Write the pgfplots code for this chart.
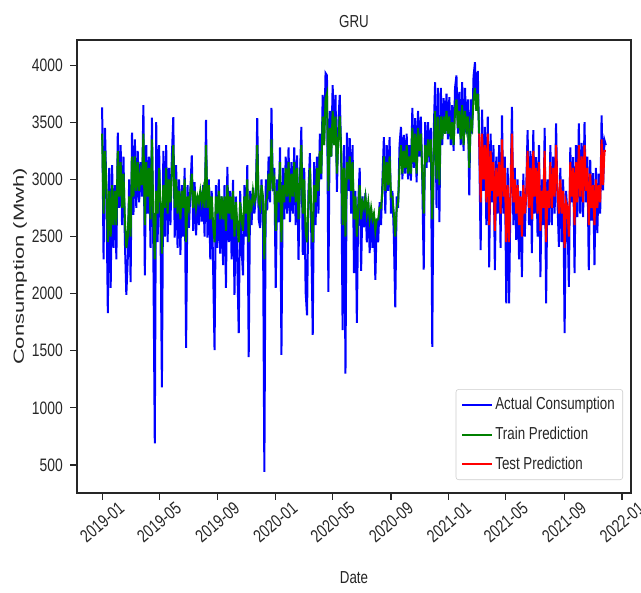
\documentclass[border=0pt]{standalone}
\usepackage{fontspec}
\setmainfont[FakeStretch=0.77]{Liberation Sans}
\newfontfamily\ylfont[FakeStretch=1.5]{Liberation Sans}
\usepackage{pgfplots}
\pgfplotsset{compat=1.18}
\definecolor{txt}{gray}{0.15}
\definecolor{mplblue}{rgb}{0,0,1}
\definecolor{mplgreen}{rgb}{0,0.5,0}
\definecolor{mplred}{rgb}{1,0,0}
\begin{document}
\begin{tikzpicture}
\useasboundingbox (-57.75pt,-74.25pt) rectangle (423pt,369.75pt);
\begin{axis}[at={(0,0)}, anchor=south west, scale only axis,
  width=415.5pt, height=339.75pt,
  xmin=-53, xmax=1115, ymin=255, ymax=4220,
  xtick={0,120,243,365,486,609,731,851,974,1096},
  xticklabels={2019-01,2019-05,2019-09,2020-01,2020-05,2020-09,2021-01,2021-05,2021-09,2022-01},
  ytick={500,1000,1500,2000,2500,3000,3500,4000},
  scaled y ticks=false,
  /pgf/number format/assume math mode=true,
  /pgf/number format/1000 sep={},
  tick align=outside, tick pos=left,
  major tick length=5pt,
  tick style={color=txt, line width=0.8pt},
  axis line style={color=txt, line width=1pt},
  every tick label/.append style={font=\fontsize{13.5}{15}\selectfont, text=txt},
  xticklabel style={yshift=-16.75pt, rotate=40, anchor=center},
  yticklabel style={anchor=east, inner sep=0pt, xshift=-5.5pt},
  title={GRU},
  title style={at={(axis description cs:0.5,1.011)}, anchor=base, inner sep=0pt, font=\fontsize{13}{15}\selectfont, text=txt},
  xlabel={Date},
  xlabel style={at={(axis description cs:0.5,-0.1987)}, anchor=base, inner sep=0pt, font=\fontsize{13}{15}\selectfont, text=txt},
  ylabel={Consumption (Mwh)},
  ylabel style={at={(axis description cs:-0.1029,0.5)}, anchor=center, rotate=0, inner sep=0pt, font=\ylfont\fontsize{11}{13}\selectfont, text=txt},
  legend cell align=left,
  legend style={at={(axis description cs:0.9856,0.0287)}, anchor=south east,
    draw=black!20, rounded corners=2pt, fill=white, fill opacity=0.8, text opacity=1,
    font=\fontsize{13}{15}\selectfont, text=txt, row sep=7.5pt, inner sep=4pt},
  legend image code/.code={\draw[line width=1.5pt] (0pt,0pt) -- (22pt,0pt);},
]
\addplot[mplblue, line width=1.5pt] coordinates {
(0,3630)(3,2300)(6,3450)(9,2900)(12,1830)(15,3100)(18,2050)(21,3125)(24,2400)(27,2950)
(30,2300)(33,3410)(36,2750)(39,3300)(42,2600)(45,3200)(48,2450)(51,1990)(54,2300)(57,3000)
(60,2100)(63,3410)(66,2690)(69,3350)(72,2750)(75,3250)(78,2800)(81,3150)(84,2850)(87,3650)
(90,2160)(93,3300)(96,2700)(99,3200)(102,2400)(105,3540)(108,2340)(111,690)(114,3500)(117,2450)
(120,3300)(123,2600)(126,1180)(129,3250)(132,2500)(135,3300)(138,2450)(141,3100)(144,2600)(147,3200)
(150,3545)(153,2490)(156,3125)(159,2400)(162,3000)(165,2340)(168,2950)(171,2500)(174,3100)(177,1525)
(180,2950)(183,2575)(186,2900)(189,3210)(192,2550)(195,2975)(198,2510)(201,2850)(204,2600)(207,2900)
(210,2630)(213,2950)(216,2500)(219,3520)(222,2490)(225,3000)(228,2300)(231,2900)(234,2225)(237,1505)
(240,2950)(243,2400)(246,3000)(249,2350)(252,2850)(255,2250)(258,2950)(261,2050)(264,3110)(267,2450)
(270,2900)(273,2300)(276,2995)(279,1990)(282,2850)(285,2250)(288,1655)(291,2900)(294,2400)(297,2160)
(300,2950)(303,2500)(306,3125)(309,1445)(312,2900)(315,2600)(318,2925)(321,2700)(324,2850)(327,3535)
(330,2650)(333,2575)(336,3000)(339,2700)(342,440)(345,3000)(348,2730)(351,3200)(354,2800)(357,3625)
(360,2900)(363,3100)(366,2050)(369,3000)(372,2625)(375,3280)(378,1465)(381,3100)(384,2650)(387,3200)
(390,2700)(393,3280)(396,2625)(399,3150)(402,2700)(405,3280)(408,2600)(411,3210)(414,2295)(417,3000)
(420,3460)(423,2340)(426,3100)(429,2015)(432,1810)(435,2900)(438,3230)(441,2500)(444,1640)(447,3150)
(450,2600)(453,3200)(456,2700)(459,3400)(462,3000)(465,3740)(468,3300)(471,3930)(474,3910)(477,2015)
(480,3600)(483,3200)(486,3825)(489,3300)(492,3740)(495,2890)(498,3500)(501,3740)(504,3200)(507,1680)
(510,3300)(513,1300)(516,3410)(519,2900)(522,3360)(525,2700)(528,3300)(531,2180)(534,2900)(537,1745)
(540,2800)(543,3100)(546,2200)(549,2850)(552,2580)(555,2880)(558,2450)(561,2800)(564,2355)(567,2750)
(570,2400)(573,2700)(576,2120)(579,2650)(582,2450)(585,2800)(588,2600)(591,3000)(594,3370)(597,2700)
(600,3300)(603,2900)(606,3370)(609,2700)(612,2900)(615,2500)(618,1880)(621,2850)(624,2750)(627,3300)
(630,3460)(633,3000)(636,3390)(639,3050)(642,3400)(645,3000)(648,3300)(651,2990)(654,3625)(657,3100)
(660,3535)(663,2975)(666,3600)(669,3200)(672,3550)(675,2975)(678,2210)(681,3500)(684,3100)(687,3500)
(690,3150)(693,3450)(696,1535)(699,3400)(702,3850)(705,2750)(708,3800)(711,2625)(714,3800)(717,3300)
(720,3710)(723,3400)(726,3750)(729,3350)(732,3720)(735,3300)(738,3650)(741,3250)(744,3800)(747,3910)
(750,3400)(753,3765)(756,3300)(759,3850)(762,3250)(765,3800)(768,3400)(771,3700)(774,2860)(777,3700)
(780,3400)(783,3900)(786,4025)(789,3600)(792,3950)(795,3300)(798,2380)(801,3610)(804,2900)(807,3460)
(810,2600)(813,3550)(816,2230)(819,3400)(822,2800)(825,3300)(828,2205)(831,3200)(834,2700)(837,3300)
(840,2400)(843,3560)(846,2700)(849,3200)(852,1915)(855,3100)(858,1915)(861,2900)(864,3635)(867,2600)
(870,3100)(873,2470)(876,3000)(879,2300)(882,2900)(885,2145)(888,3050)(891,2500)(894,2900)(897,3430)
(900,2600)(903,3250)(906,2355)(909,3430)(912,2700)(915,3195)(918,2500)(921,3300)(924,2145)(927,3000)
(930,2600)(933,3450)(936,1915)(939,3000)(942,2600)(945,3300)(948,2600)(951,3200)(954,2700)(957,3490)
(960,2800)(963,2410)(966,3100)(969,2450)(972,3000)(975,1655)(978,2900)(981,2700)(984,2060)(987,3280)
(990,2800)(993,3195)(996,2180)(999,3300)(1002,2670)(1005,3490)(1008,2700)(1011,3320)(1014,2670)(1017,3500)
(1020,2800)(1023,3200)(1026,2205)(1029,3170)(1032,2640)(1035,3055)(1038,2250)(1041,3100)(1044,2530)(1047,3050)
(1050,2700)(1053,3560)(1056,2905)(1059,3345)(1062,3300)
};
\addlegendentry{Actual Consumption}
\addplot[mplgreen, line width=1.5pt] coordinates {
(0,3400)(3,2700)(6,3250)(9,2950)(12,2450)(15,2900)(18,2500)(21,2950)(24,2600)(27,2900)
(30,2600)(33,3250)(36,2850)(39,3150)(42,2750)(45,3050)(48,2650)(51,2400)(54,2500)(57,2850)
(60,2500)(63,3200)(66,2850)(69,3200)(72,2900)(75,3150)(78,2900)(81,3050)(84,2950)(87,3400)
(90,2600)(93,3150)(96,2850)(99,3100)(102,2650)(105,3350)(108,2650)(111,2300)(114,2900)(117,2700)
(120,3100)(123,2800)(126,2350)(129,2950)(132,2750)(135,3100)(138,2700)(141,3000)(144,2800)(147,3050)
(150,3300)(153,2750)(156,3000)(159,2700)(162,2900)(165,2650)(168,2900)(171,2750)(174,3000)(177,2450)
(180,2850)(183,2750)(186,2900)(189,3050)(192,2750)(195,2900)(198,2750)(201,2850)(204,2800)(207,2900)
(210,2800)(213,2900)(216,2750)(219,3300)(222,2750)(225,2950)(228,2650)(231,2850)(234,2600)(237,2450)
(240,2850)(243,2700)(246,2900)(249,2650)(252,2850)(255,2650)(258,2850)(261,2550)(264,2950)(267,2700)
(270,2850)(273,2650)(276,2900)(279,2500)(282,2800)(285,2600)(288,2450)(291,2800)(294,2650)(297,2550)
(300,2850)(303,2700)(306,3000)(309,2450)(312,2800)(315,2750)(318,2900)(321,2800)(324,2850)(327,3300)
(330,2800)(333,2750)(336,2950)(339,2850)(342,2300)(345,2800)(348,2850)(351,3050)(354,2900)(357,3350)
(360,2950)(363,3000)(366,2550)(369,2900)(372,2800)(375,3150)(378,2450)(381,2950)(384,2800)(387,3100)
(390,2850)(393,3150)(396,2800)(399,3050)(402,2850)(405,3150)(408,2800)(411,3100)(414,2650)(417,2950)
(420,3300)(423,2700)(426,3000)(429,2550)(432,2450)(435,2800)(438,3100)(441,2700)(444,2450)(447,2950)
(450,2800)(453,3100)(456,2900)(459,3250)(462,3050)(465,3550)(468,3300)(471,3700)(474,3750)(477,2900)
(480,3450)(483,3200)(486,3600)(489,3300)(492,3550)(495,3050)(498,3350)(501,3550)(504,3250)(507,2600)
(510,3100)(513,2500)(516,3150)(519,3000)(522,3200)(525,2900)(528,3150)(531,2650)(534,2850)(537,2500)
(540,2750)(543,2950)(546,2650)(549,2800)(552,2750)(555,2850)(558,2700)(561,2800)(564,2650)(567,2750)
(570,2650)(573,2700)(576,2550)(579,2650)(582,2650)(585,2750)(588,2750)(591,2900)(594,3200)(597,2900)
(600,3150)(603,2950)(606,3200)(609,2850)(612,2850)(615,2700)(618,2500)(621,2750)(624,2800)(627,3100)
(630,3300)(633,3050)(636,3250)(639,3100)(642,3300)(645,3050)(648,3200)(651,3050)(654,3450)(657,3150)
(660,3400)(663,3050)(666,3450)(669,3250)(672,3400)(675,3050)(678,2700)(681,3300)(684,3150)(687,3350)
(690,3200)(693,3350)(696,2650)(699,3200)(702,3600)(705,3000)(708,3550)(711,2950)(714,3550)(717,3350)
(720,3550)(723,3400)(726,3600)(729,3400)(732,3550)(735,3350)(738,3500)(741,3300)(744,3600)(747,3700)
(750,3450)(753,3600)(756,3350)(759,3650)(762,3300)(765,3600)(768,3450)(771,3550)(774,3100)(777,3500)
(780,3450)(783,3700)(786,3800)(789,3600)(792,3750)(795,3400)
};
\addlegendentry{Train Prediction}
\addplot[mplred, line width=1.5pt] coordinates {
(795,3400)(798,2800)(801,3400)(804,3000)(807,3300)(810,2800)(813,3400)(816,2600)(819,3250)(822,2900)
(825,3150)(828,2550)(831,3100)(834,2850)(837,3150)(840,2700)(843,3350)(846,2850)(849,3100)(852,2450)
(855,2950)(858,2450)(861,2850)(864,3400)(867,2800)(870,3000)(873,2700)(876,2950)(879,2600)(882,2850)
(885,2500)(888,2950)(891,2700)(894,2850)(897,3250)(900,2750)(903,3100)(906,2650)(909,3250)(912,2850)
(915,3100)(918,2700)(921,3150)(924,2550)(927,2900)(930,2750)(933,3250)(936,2450)(939,2900)(942,2750)
(945,3150)(948,2750)(951,3100)(954,2850)(957,3300)(960,2900)(963,2700)(966,3000)(969,2700)(972,2900)
(975,2400)(978,2800)(981,2750)(984,2500)(987,3150)(990,2850)(993,3100)(996,2600)(999,3150)(1002,2800)
(1005,3300)(1008,2850)(1011,3200)(1014,2800)(1017,3300)(1020,2900)(1023,3100)(1026,2600)(1029,3050)(1032,2750)
(1035,2950)(1038,2600)(1041,3000)(1044,2750)(1047,2950)(1050,2800)(1053,3350)(1056,2950)(1059,3250)(1062,3250)
};
\addlegendentry{Test Prediction}
\end{axis}
\end{tikzpicture}
\end{document}
